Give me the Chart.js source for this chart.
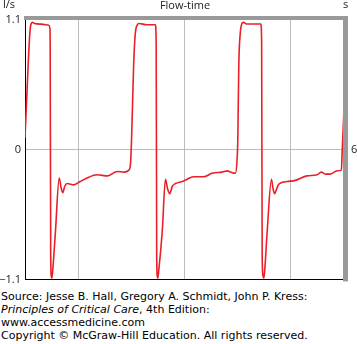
<!DOCTYPE html>
<html>
<head>
<meta charset="utf-8">
<script src="https://cdn.jsdelivr.net/npm/chart.js@4"></script>
<style>
  body { margin: 0; background: #fff; width: 357px; height: 344px; overflow: hidden; position: relative; }
  #chart { position: absolute; left: 0; top: 0; }
  .source { position: absolute; left: 1px; top: 290px; font-family: "DejaVu Sans", sans-serif; font-size: 11px; line-height: 13px; color: #000; white-space: nowrap; }
</style>
</head>
<body>
<canvas id="chart" width="357" height="290"></canvas>
<div class="source">
  Source: Jesse B. Hall, Gregory A. Schmidt, John P. Kress:<br>
  <i>Principles of Critical Care</i>, 4th Edition:<br>
  www.accessmedicine.com<br>
  Copyright © McGraw-Hill Education. All rights reserved.
</div>
<script>
// flow (l/s) against time (s)
const times = [
  0.00, 0.06, 0.09, 0.11, 0.14, 0.18, 0.30, 0.45, 0.47,
  0.475, 0.485, 0.495, 0.505, 0.52, 0.575, 0.645, 0.68, 0.713, 0.75, 0.796,
  0.92, 1.04, 1.17, 1.36, 1.56, 1.74, 1.87, 1.96, 1.99,
  2.01, 2.05, 2.08, 2.12, 2.15, 2.30, 2.46,
  2.475, 2.485, 2.495, 2.505, 2.52, 2.59, 2.65, 2.69, 2.73, 2.78, 2.84,
  2.97, 3.18, 3.37, 3.53, 3.72, 3.82, 3.88, 3.97, 4.00,
  4.015, 4.034, 4.06, 4.09, 4.12, 4.18, 4.30, 4.45,
  4.465, 4.475, 4.49, 4.506, 4.52, 4.57, 4.65, 4.68, 4.71, 4.75, 4.79,
  4.95, 5.10, 5.32, 5.51, 5.59, 5.67, 5.76, 5.89, 5.97, 5.985, 6.02
];
const flows = [
  0.10, 0.72, 0.98, 1.06, 1.08, 1.07, 1.065, 1.055, 1.03,
  0.90, -0.90, -1.07, -1.09, -1.04, -0.69, -0.24, -0.32, -0.364, -0.31, -0.287,
  -0.298, -0.27, -0.24, -0.213, -0.222, -0.185, -0.19, -0.173, -0.12,
  0.08, 0.72, 0.98, 1.06, 1.07, 1.06, 1.06,
  0.90, -0.90, -1.07, -1.09, -1.04, -0.69, -0.25, -0.33, -0.373, -0.31, -0.287,
  -0.27, -0.23, -0.23, -0.20, -0.19, -0.18, -0.19, -0.20, -0.094,
  0.08, 0.72, 0.98, 1.066, 1.08, 1.066, 1.066, 1.066,
  0.90, -0.90, -1.07, -1.09, -1.04, -0.69, -0.25, -0.33, -0.373, -0.33, -0.292,
  -0.27, -0.26, -0.222, -0.213, -0.19, -0.207, -0.207, -0.179, -0.173, -0.01, 0.35
];
const xGridValues = [1, 3, 5];
const yTickValues = [-1.1, 0, 1.1];
const yTickLabels = ['\u22121.1', '0', '1.1'];

const textFont = '"Open Sans", sans-serif';
const gridGray = '#bcbcbc';
const frameGray = '#999999';

const framePlugin = {
  id: 'frame',
  afterDraw(chart) {
    const { ctx, chartArea: ca, scales } = chart;
    ctx.save();
    // grey frame on top and right
    ctx.fillStyle = frameGray;
    ctx.fillRect(ca.left - 1, ca.top - 4, ca.right - ca.left + 6, 4);
    ctx.fillRect(ca.right, ca.top - 4, 5, ca.bottom - ca.top + 6);
    // labels
    ctx.fillStyle = '#222';
    ctx.font = '11px ' + textFont;
    ctx.textBaseline = 'middle';
    ctx.textAlign = 'left';
    ctx.fillText('l/s', 3, 5);
    ctx.fillText('s', ca.right, 5);
    ctx.textAlign = 'center';
    ctx.fillText('Flow-time', (ca.left + ca.right) / 2 + 1, 6);
    ctx.textAlign = 'left';
    ctx.fillText('6', scales.x.getPixelForValue(6) + 8, scales.y.getPixelForValue(0));
    ctx.restore();
  }
};

new Chart(document.getElementById('chart'), {
  type: 'line',
  data: {
    datasets: [{
      data: times.map((t, i) => ({ x: t, y: flows[i] })),
      borderColor: '#ea1f27',
      borderWidth: 1.6,
      pointRadius: 0,
      cubicInterpolationMode: 'monotone'
    }]
  },
  options: {
    responsive: false,
    animation: false,
    devicePixelRatio: 1,
    layout: { padding: { top: 20, right: 14, left: 0, bottom: 0 } },
    plugins: { legend: { display: false }, tooltip: { enabled: false } },
    scales: {
      x: {
        type: 'linear',
        min: 0,
        max: 6,
        afterBuildTicks: (axis) => { axis.ticks = xGridValues.map(v => ({ value: v })); },
        afterFit: (axis) => { axis.height = 1; },
        ticks: { display: false },
        grid: { color: gridGray, lineWidth: 1, drawTicks: false },
        border: { color: '#000', width: 1 }
      },
      y: {
        min: -1.1,
        max: 1.1,
        afterBuildTicks: (axis) => { axis.ticks = yTickValues.map(v => ({ value: v })); },
        afterFit: (axis) => { axis.width = 25; },
        ticks: {
          padding: 4,
          color: '#222',
          font: { family: textFont, size: 11 },
          callback: (v) => yTickLabels[yTickValues.indexOf(v)]
        },
        grid: {
          color: (c) => (c.tick && c.tick.value === 0 ? gridGray : 'rgba(0,0,0,0)'),
          drawTicks: false
        },
        border: { color: '#000', width: 1 }
      }
    }
  },
  plugins: [framePlugin]
});
</script>
</body>
</html>
